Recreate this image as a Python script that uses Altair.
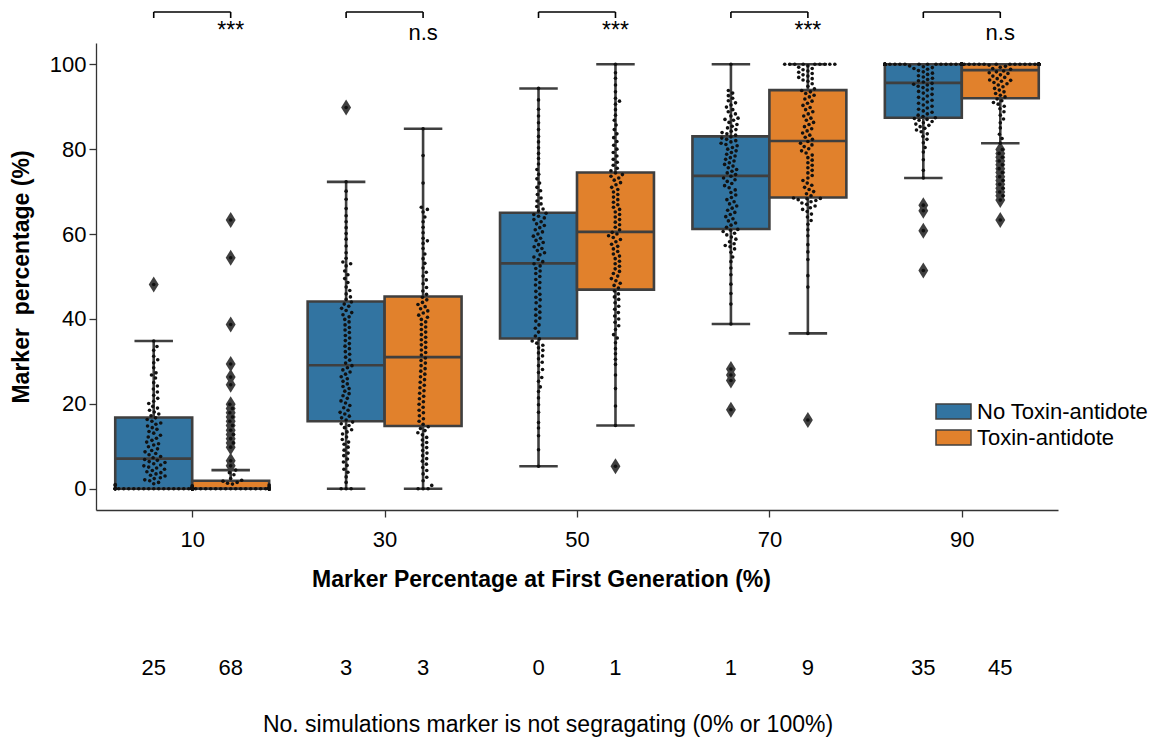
import math
import altair as alt
import pandas as pd

# ---------------- data ----------------
groups = ["10", "30", "50", "70", "90"]
hues = ["No Toxin-antidote", "Toxin-antidote"]

# box statistics (Marker percentage, %)
blue_q1 = [0.0, 15.9, 35.4, 61.2, 87.4]
blue_med = [7.1, 29.1, 53.1, 73.7, 95.6]
blue_q3 = [16.8, 44.1, 65.0, 83.0, 100.0]
blue_wlo = [0.0, 0.0, 5.3, 38.8, 73.2]
blue_whi = [34.8, 72.3, 94.3, 100.0, 100.0]

orange_q1 = [0.0, 14.8, 46.9, 68.6, 92.0]
orange_med = [0.0, 31.0, 60.5, 81.9, 98.6]
orange_q3 = [1.9, 45.3, 74.5, 93.9, 100.0]
orange_wlo = [0.0, 0.0, 14.9, 36.6, 81.4]
orange_whi = [4.4, 84.8, 100.0, 100.0, 100.0]

# outliers (diamonds)
blue_out = [
    [48.1],
    [89.8],
    [],
    [28.2, 26.8, 25.5, 18.6],
    [66.8, 65.5, 60.8, 51.4],
]
orange_out = [
    [63.3, 54.4, 38.7, 29.4, 26.3, 24.5, 19.9, 18.9, 17.9, 16.9, 15.9, 14.9,
     13.8, 12.8, 11.8, 10.8, 9.8, 6.6, 5.4],
    [],
    [5.3],
    [16.2],
    [79.9, 79.0, 78.1, 77.2, 76.3, 75.4, 74.5, 73.5, 72.6, 71.7, 70.8, 69.9,
     69.0, 68.0, 63.3],
]

# individual simulations (swarm dots)
blue_sims = [
    [0.0] * 25 + [
        0.4, 0.8, 1.0, 1.2, 1.5, 1.9, 2.1, 2.4, 2.6, 3.0, 3.2, 3.5, 3.8, 4.0,
        4.3, 4.6, 4.9, 5.1, 5.4, 5.6, 5.9, 6.2, 6.4, 6.7, 6.9,
        7.3, 7.6, 8.0, 8.3, 8.7, 9.0, 9.4, 9.9, 10.3, 10.6, 11.0, 11.4, 11.9,
        12.2, 12.6, 13.1, 13.5, 14.0, 14.4, 14.8, 15.2, 15.5, 15.9, 16.3, 16.7,
        17.2, 17.6, 18.1, 18.5, 19.0, 19.4, 20.1, 20.6, 21.3, 22.0, 22.8, 23.5,
        24.2, 25.0, 26.1, 26.8, 27.3, 28.5, 29.7, 30.4, 31.2, 32.6, 33.5, 34.8,
        48.1],
    [0.0] * 3 + [
        1.5, 2.8, 3.9, 4.6, 5.5, 6.3, 7.0, 7.8, 8.4, 9.1, 9.8, 10.5, 11.0,
        11.6, 12.2, 12.9, 13.4, 13.9, 14.4, 14.9, 15.3, 15.7,
        16.2, 16.7, 17.1, 17.6, 18.0, 18.5, 19.1, 19.6, 20.2, 20.7, 21.3, 21.9,
        22.4, 23.0, 23.6, 24.1, 24.7, 25.3, 25.9, 26.4, 27.0, 27.5, 28.0, 28.5, 29.0,
        29.6, 30.3, 31.0, 31.7, 32.3, 33.0, 33.6, 34.2, 34.9, 35.5, 36.1, 36.8,
        37.4, 38.0, 38.6, 39.3, 39.9, 40.5, 41.0, 41.5, 42.0, 42.5, 43.0, 43.5, 44.0,
        44.6, 45.2, 45.9, 46.7, 47.5, 48.6, 49.5, 50.4, 51.3, 52.5, 53.0, 53.4,
        54.3, 55.6, 57.2, 58.8, 60.1, 61.5, 62.9, 64.3, 66.0, 68.2, 70.1, 72.3,
        89.8],
    [
        5.3, 9.2, 12.5, 14.3, 15.6, 18.0, 19.8, 21.4, 22.9, 24.0, 25.3, 26.2,
        27.4, 28.1, 29.0, 29.8, 30.6, 31.3, 32.0, 32.6, 33.2, 33.8, 34.3, 34.8, 35.3,
        36.0, 36.9, 37.8, 38.6, 39.5, 40.2, 40.9, 41.6, 42.3, 43.0, 43.8, 44.5,
        45.1, 45.8, 46.5, 47.3, 48.0, 48.6, 49.3, 50.0, 50.7, 51.3, 51.9, 52.5, 53.0,
        53.5, 54.0, 54.6, 55.1, 55.6, 56.1, 56.6, 57.0, 57.5, 58.0, 58.5, 59.0,
        59.5, 60.0, 60.5, 61.0, 61.5, 62.0, 62.4, 62.9, 63.4, 63.8, 64.2, 64.6, 64.9,
        65.4, 65.9, 66.5, 67.1, 67.8, 68.5, 69.3, 70.2, 71.0, 72.0, 73.0, 74.1,
        75.2, 76.5, 77.8, 79.0, 80.3, 81.7, 83.0, 84.6, 86.2, 87.8, 89.4, 91.6, 94.3],
    [
        18.6, 25.5, 26.8, 28.2,
        38.8, 43.5, 46.0, 48.2, 50.4, 52.0, 53.5, 54.6, 55.7, 56.5, 57.0, 57.3,
        57.7, 58.2, 58.8, 59.3, 59.8, 60.2, 60.6, 60.9, 61.1,
        61.6, 62.1, 62.6, 63.1, 63.6, 64.1, 64.6, 65.1, 65.6, 66.1, 66.6, 67.1,
        67.6, 68.1, 68.6, 69.2, 69.8, 70.4, 70.9, 71.4, 71.9, 72.4, 72.8, 73.2, 73.6,
        74.0, 74.4, 74.8, 75.2, 75.6, 76.0, 76.4, 76.8, 77.2, 77.6, 78.0, 78.4,
        78.8, 79.2, 79.6, 80.0, 80.4, 80.8, 81.1, 81.4, 81.7, 82.0, 82.3, 82.6, 82.9,
        83.3, 83.6, 83.9, 84.2, 84.6, 85.0, 85.4, 85.8, 86.3, 86.8, 87.0, 87.3,
        87.8, 88.3, 88.8, 89.3, 89.9, 90.4, 90.9, 91.4, 92.0, 92.6, 93.2, 93.8, 100.0],
    [
        51.4, 60.8, 65.5, 66.8,
        73.2, 75.0, 77.5, 79.3, 80.4, 81.5, 82.3, 83.0, 83.6, 84.1, 84.5, 84.9,
        85.3, 85.6, 85.9, 86.2, 86.5, 86.8, 87.0, 87.2, 87.4,
        87.7, 88.0, 88.3, 88.7, 89.0, 89.4, 89.7, 90.1, 90.4, 90.8, 91.1, 91.5,
        91.8, 92.2, 92.5, 92.9, 93.2, 93.6, 93.9, 94.2, 94.5, 94.8, 95.1, 95.3, 95.5,
        95.8, 96.1, 96.4, 96.7, 97.0, 97.3, 97.6, 97.9, 98.2, 98.5, 98.8, 99.0,
        99.2, 99.4, 99.6] + [100.0] * 35,
]
orange_sims = [
    [0.0] * 68 + [
        0.3, 0.5, 0.7, 0.9, 1.1, 1.3, 1.5, 1.8, 2.0, 2.4, 3.3, 3.8, 4.4,
        5.4, 6.6, 9.8, 10.8, 11.8, 12.8, 13.8, 14.9, 15.9, 16.9, 17.9, 18.9,
        19.9, 24.5, 26.3, 29.4, 38.7, 54.4, 63.3],
    [0.0] * 3 + [
        0.8, 1.9, 2.7, 3.5, 4.3, 5.0, 5.8, 6.5, 7.1, 7.8, 8.4, 9.0, 9.7, 10.3,
        10.9, 11.5, 12.1, 12.7, 13.2, 13.7, 14.2, 14.6,
        15.2, 15.9, 16.5, 17.2, 17.9, 18.5, 19.2, 19.9, 20.5, 21.2, 21.8, 22.5,
        23.1, 23.8, 24.4, 25.1, 25.7, 26.4, 27.0, 27.7, 28.3, 29.0, 29.6, 30.2, 30.8,
        31.5, 32.1, 32.7, 33.3, 33.9, 34.5, 35.1, 35.7, 36.3, 36.9, 37.5, 38.1,
        38.7, 39.3, 39.9, 40.4, 40.9, 41.4, 41.9, 42.4, 42.9, 43.4, 43.9, 44.5, 45.1,
        45.8, 46.6, 47.4, 48.3, 49.2, 50.1, 51.0, 52.0, 53.1, 54.2, 55.3, 56.6,
        57.8, 58.4, 59.0, 60.3, 61.6, 62.9, 64.0, 65.2, 65.8, 66.3, 72.0, 78.5, 84.8],
    [
        5.3,
        14.9, 19.5, 23.6, 26.8, 29.3, 30.5, 31.8, 33.0, 34.4, 35.5, 36.3, 37.5,
        38.4, 39.2, 40.0, 40.7, 41.5, 42.3, 43.0, 43.8, 44.6, 45.2, 45.9, 46.6,
        47.3, 47.9, 48.4, 49.0, 49.5, 50.1, 50.7, 51.2, 51.8, 52.4, 53.0, 53.6,
        54.2, 54.8, 55.3, 55.9, 56.5, 57.1, 57.6, 58.2, 58.7, 59.2, 59.6, 60.0, 60.4,
        61.0, 61.6, 62.2, 62.8, 63.4, 64.0, 64.6, 65.2, 65.8, 66.3, 66.9, 67.5,
        68.1, 68.7, 69.3, 69.9, 70.5, 71.0, 71.6, 72.1, 72.7, 73.2, 73.6, 74.0, 74.4,
        74.9, 75.5, 76.2, 76.9, 77.6, 78.4, 79.2, 80.0, 80.9, 81.8, 82.7, 83.6,
        84.6, 85.7, 86.8, 88.0, 89.3, 90.6, 91.3, 92.0, 93.5, 95.1, 96.7, 98.0, 100.0],
    [
        16.2,
        36.6, 47.5, 50.2, 54.0, 55.8, 57.5, 59.6, 61.0, 62.3, 63.2, 64.0, 64.7,
        65.3, 65.8, 66.2, 66.6, 67.0, 67.3, 67.6, 67.9, 68.1, 68.3, 68.4, 68.5,
        69.0, 69.5, 70.0, 70.5, 71.0, 71.5, 72.0, 72.6, 73.2, 73.8, 74.4, 75.0,
        75.6, 76.2, 76.8, 77.4, 78.0, 78.6, 79.1, 79.6, 80.1, 80.6, 81.0, 81.4, 81.8,
        82.3, 82.8, 83.3, 83.8, 84.3, 84.8, 85.3, 85.8, 86.3, 86.8, 87.3, 87.8,
        88.3, 88.8, 89.3, 89.8, 90.3, 90.8, 91.3, 91.8, 92.3, 92.7, 93.1, 93.5, 93.8,
        94.2, 94.8, 95.4, 96.0, 96.3, 96.6, 96.9, 97.2, 97.5, 97.8, 98.1, 98.4,
        98.7, 99.0, 99.3, 99.6] + [100.0] * 9,
    [
        63.3, 68.0, 69.0, 69.9, 70.8, 71.7, 72.6, 73.5, 74.5, 75.4, 76.3, 77.2,
        78.1, 79.0, 79.9,
        81.4, 82.5, 83.5, 85.0, 86.2, 87.1, 88.0, 88.8, 89.5, 90.1, 90.6, 91.0,
        91.4, 91.8,
        92.3, 92.7, 93.1, 93.5, 93.9, 94.3, 94.7, 95.1, 95.4, 95.7, 96.0, 96.2,
        96.3, 96.6, 96.9, 97.2, 97.5, 97.8, 98.0, 98.2, 98.4,
        98.8, 99.0, 99.3, 99.5, 99.8] + [100.0] * 45,
]

# number of non-segregating simulations
blue_fixed = [25, 3, 0, 1, 35]
orange_fixed = [68, 3, 1, 9, 45]
significance = ["***", "n.s", "***", "***", "n.s"]

# ---------------- styling / layout ----------------
FONT = "Liberation Sans"
BLUE = "#3274a1"
ORANGE = "#e1812c"
EDGE = "#3f3f3f"
W, H = 962, 467
PAD = {"left": 96, "top": 43, "right": 102, "bottom": 232}
XDOM = [-0.5, 4.5]
YDOM = [-5, 105]
HALF = 0.2          # half width of one box (category units)
DOT_D = 5.0         # swarm dot spacing in px
PX_X = W / (XDOM[1] - XDOM[0])
PX_Y = H / (YDOM[1] - YDOM[0])


def swarm_offsets(values):
    """Beeswarm layout: returns x offsets (category units) for each value."""
    placed = []
    res = []
    lim = HALF * PX_X
    for v in sorted(values):
        y = v * PX_Y
        neigh = [(px, py) for (px, py) in placed if abs(py - y) < DOT_D]
        cands = [0.0]
        for px, py in neigh:
            dx = math.sqrt(max(DOT_D ** 2 - (py - y) ** 2, 0.0))
            cands += [px + dx, px - dx]
        cands.sort(key=abs)
        chosen = cands[-1]
        for c in cands:
            if all((c - px) ** 2 + (y - py) ** 2 >= DOT_D ** 2 - 1e-6 for px, py in neigh):
                chosen = c
                break
        placed.append((chosen, y))
        res.append((v, max(-lim, min(lim, chosen)) / PX_X))
    return res


box_rows, out_rows, dot_rows, cnt_rows, br_rows = [], [], [], [], []
for i, g in enumerate(groups):
    for h, hue in enumerate(hues):
        pos = i - HALF if h == 0 else i + HALF
        q1 = (blue_q1 if h == 0 else orange_q1)[i]
        med = (blue_med if h == 0 else orange_med)[i]
        q3 = (blue_q3 if h == 0 else orange_q3)[i]
        wlo = (blue_wlo if h == 0 else orange_wlo)[i]
        whi = (blue_whi if h == 0 else orange_whi)[i]
        box_rows.append(dict(group=g, hue=hue, pos=pos, xl=pos - HALF, xr=pos + HALF,
                             cl=pos - HALF / 2, cr=pos + HALF / 2,
                             q1=q1, med=med, q3=q3, wlo=wlo, whi=whi))
        for v in (blue_out if h == 0 else orange_out)[i]:
            out_rows.append(dict(pos=pos, v=v))
        for v, off in swarm_offsets((blue_sims if h == 0 else orange_sims)[i]):
            dot_rows.append(dict(sx=pos + off, v=v))
        cnt_rows.append(dict(pos=pos, n=str((blue_fixed if h == 0 else orange_fixed)[i])))
    br_rows.append(dict(xl=i - HALF, xr=i + HALF, sig=significance[i],
                        star=significance[i] == "***"))

box_df = pd.DataFrame(box_rows)
out_df = pd.DataFrame(out_rows)
dot_df = pd.DataFrame(dot_rows)
cnt_df = pd.DataFrame(cnt_rows)
br_df = pd.DataFrame(br_rows)
foot_df = pd.DataFrame({"t": ["No. simulations marker is not segragating (0% or 100%)"]})

xscale = alt.Scale(domain=XDOM, nice=False, zero=False)
yscale = alt.Scale(domain=YDOM, nice=False, zero=False)

label_arr = "[" + ",".join("'" + g + "'" for g in groups) + "]"
xaxis = alt.Axis(values=[0, 1, 2, 3, 4], labelExpr=label_arr + "[datum.value]",
                 title="Marker Percentage at First Generation (%)", grid=False,
                 tickSize=7, labelPadding=12, labelFontSize=22, labelFont=FONT,
                 labelColor="black", titleFont=FONT, titleFontSize=23,
                 titleFontWeight="bold", titleColor="black", titleX=445, titleY=76,
                 titleAlign="center", titleBaseline="alphabetic",
                 domainColor="#333333", tickColor="#333333", domainWidth=1.3,
                 tickWidth=1.3, labelFlush=False)
yaxis = alt.Axis(values=[0, 20, 40, 60, 80, 100], title="Marker\u00a0 percentage (%)",
                 grid=False, tickSize=7, labelPadding=3, labelFontSize=22,
                 labelFont=FONT, labelColor="black", titleFont=FONT, titleFontSize=23,
                 titleFontWeight="bold", titleColor="black", titleAngle=270,
                 titleX=-68, titleY=H / 2, titleAlign="center",
                 titleBaseline="alphabetic", domainColor="#333333",
                 tickColor="#333333", domainWidth=1.3, tickWidth=1.3)


def X(f):
    return alt.X(f, type="quantitative", scale=xscale, axis=xaxis)


def Y(f):
    return alt.Y(f, type="quantitative", scale=yscale, axis=yaxis)


whisk = alt.Chart(box_df).mark_rule(color=EDGE, strokeWidth=2.6).encode(
    x=X("pos"), y=Y("wlo"), y2="whi")
cap_lo = alt.Chart(box_df).mark_rule(color=EDGE, strokeWidth=2.6).encode(
    x=X("cl"), x2="cr", y=Y("wlo"))
cap_hi = alt.Chart(box_df).mark_rule(color=EDGE, strokeWidth=2.6).encode(
    x=X("cr"), x2="cl", y=Y("whi"))
boxes = alt.Chart(box_df).mark_bar(stroke=EDGE, strokeWidth=2.6, opacity=1).encode(
    x=X("xl"), x2="xr", y=Y("q1"), y2="q3",
    color=alt.Color("hue:N", scale=alt.Scale(domain=hues, range=[BLUE, ORANGE]),
                    legend=alt.Legend(title=None, orient="none", legendX=844,
                                      legendY=355, padding=0,
                                      symbolType="M-1.4,-0.6H1.4V0.6H-1.4Z",
                                      symbolSize=625, symbolStrokeColor=EDGE,
                                      symbolStrokeWidth=1.5, symbolOpacity=1,
                                      labelFontSize=22, labelFont=FONT,
                                      labelColor="black", labelOffset=10,
                                      labelLimit=400, rowPadding=1)))
medians = alt.Chart(box_df).mark_rule(color=EDGE, strokeWidth=2.6).encode(
    x=X("xl"), x2="xr", y=Y("med"))
outl = alt.Chart(out_df).mark_point(shape="M0,-1L0.62,0L0,1L-0.62,0Z", filled=True,
                                     fill=EDGE, size=256, opacity=1, strokeWidth=0).encode(
    x=X("pos"), y=Y("v"))
dots = alt.Chart(dot_df).mark_circle(color="#111111", size=13, opacity=1).encode(
    x=X("sx"), y=Y("v"))

BR_Y = 12 - PAD["top"]
br_h = alt.Chart(br_df).mark_rule(color="black", strokeWidth=1.6).encode(
    x=X("xl"), x2="xr", y=alt.value(BR_Y))
br_l = alt.Chart(br_df).mark_rule(color="black", strokeWidth=1.6).encode(
    x=X("xl"), y=alt.value(BR_Y), y2=alt.value(BR_Y + 6))
br_r = alt.Chart(br_df).mark_rule(color="black", strokeWidth=1.6).encode(
    x=X("xr"), y=alt.value(BR_Y), y2=alt.value(BR_Y + 6))
sig_star = alt.Chart(br_df).transform_filter("datum.star").mark_text(
    font=FONT, fontSize=23, color="black", baseline="alphabetic", align="center").encode(
    x=X("xr"), y=alt.value(38 - PAD["top"]), text="sig:N")
sig_ns = alt.Chart(br_df).transform_filter("!datum.star").mark_text(
    font=FONT, fontSize=22, color="black", baseline="alphabetic", align="center").encode(
    x=X("xr"), y=alt.value(40 - PAD["top"]), text="sig:N")
counts = alt.Chart(cnt_df).mark_text(font=FONT, fontSize=22, color="black",
                                     baseline="alphabetic", align="center").encode(
    x=X("pos"), y=alt.value(675 - PAD["top"]), text="n:N")
foot = alt.Chart(foot_df).mark_text(font=FONT, fontSize=23, color="black",
                                    baseline="alphabetic", align="center").encode(
    x=alt.value(548 - PAD["left"]), y=alt.value(732 - PAD["top"]), text="t:N")

chart = alt.layer(whisk, cap_lo, cap_hi, boxes, medians, outl, dots,
                  br_h, br_l, br_r, sig_star, sig_ns, counts, foot).properties(
    width=W, height=H, padding=PAD,
    autosize=alt.AutoSizeParams(type="none"),
    background="white",
).configure_view(stroke=None)

chart.save("out.html", embed_options={"renderer": "svg", "actions": False})
